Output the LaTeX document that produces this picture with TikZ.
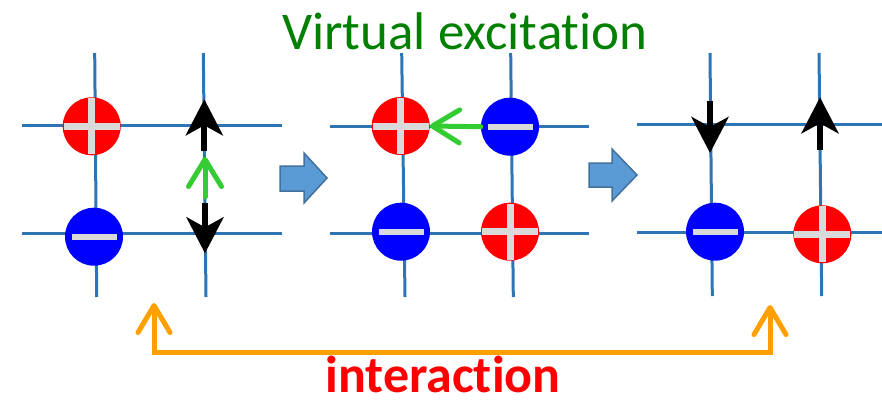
\documentclass[tikz,border=0pt]{standalone}
\usepackage{fontspec}
\setmainfont{Carlito}[Ligatures=NoCommon]
\usetikzlibrary{arrows.meta}
\definecolor{gridblue}{RGB}{46,117,182}
\definecolor{chgray}{RGB}{217,217,217}
\definecolor{exgreen}{RGB}{51,204,51}
\definecolor{txtgreen}{RGB}{0,128,0}
\definecolor{orng}{RGB}{255,160,0}
\definecolor{blkfill}{RGB}{91,155,213}
\definecolor{blkedge}{RGB}{65,113,156}
\tikzset{
  gridline/.style={gridblue, line width=3pt},
  poscharge/.style={circle, fill=red, minimum size=58pt, inner sep=0pt},
  negcharge/.style={circle, fill=blue, minimum size=58pt, inner sep=0pt},
  chbar/.style={chgray, line width=7pt},
  spinarrow/.style={black, line width=6pt, -{Stealth[length=36pt, width=37pt, inset=10pt]}},
  hoparrow/.style={exgreen, line width=5pt, line cap=round, -{Straight Barb[length=27pt, width=33pt, line cap=round, line join=round]}},
  intarrow/.style={orng, line width=5pt, {Straight Barb[length=27pt, width=32pt, line cap=round, line join=round]}-{Straight Barb[length=27pt, width=32pt, line cap=round, line join=round]}},
  blockarrow/.style={fill=blkfill, draw=blkedge, line width=1.5pt, line join=miter}
}
\begin{document}
\begin{tikzpicture}[x=1pt, y=-1pt]
\useasboundingbox (0,0) rectangle (882,402);
% ---------- panel 1 grid
\draw[gridline] (22,125.7) -- (282,125.7);
\draw[gridline] (22,233.3) -- (282,233.3);
\draw[gridline] (94.7,53) -- (96.7,297);
\draw[gridline] (203.3,53) -- (206,297);
% ---------- panel 2 grid
\draw[gridline] (330,126) -- (589,126);
\draw[gridline] (330,233) -- (589,233);
\draw[gridline] (401.7,53) -- (405,297);
\draw[gridline] (510.7,53) -- (513.3,297);
% ---------- panel 3 grid
\draw[gridline] (637,124.7) -- (882,124.7);
\draw[gridline] (637,232.7) -- (882,232.7);
\draw[gridline] (710,53) -- (712.3,296);
\draw[gridline] (819,53) -- (821.7,296);

% ---------- charges
\node[poscharge] (p1) at (91.7,126.3) {};
\node[negcharge] (n1) at (94,236.7) {};
\node[poscharge] (p2) at (400.7,126) {};
\node[negcharge] (n2) at (510,126.7) {};
\node[negcharge] (n3) at (401,231.7) {};
\node[poscharge] (p3) at (510,231.7) {};
\node[negcharge] (n4) at (715,231.7) {};
\node[poscharge] (p4) at (822.3,234.3) {};
\foreach \c in {p1,p2,p3,p4}{
  \draw[chbar] ([xshift=-28pt]\c.center) -- ([xshift=28pt]\c.center);
  \draw[chbar] ([yshift=-28pt]\c.center) -- ([yshift=28pt]\c.center);
}
\foreach \c in {n1,n2,n3,n4}{
  \draw[chgray, line width=6pt] ([xshift=-22.5pt]\c.center) -- ([xshift=22.5pt]\c.center);
}

% ---------- spins
\coordinate (s1a) at (204.3,151);  \coordinate (s1b) at (204.3,99.3);
\coordinate (s2a) at (205,202.7);  \coordinate (s2b) at (205,253.3);
\coordinate (s3a) at (710,101);    \coordinate (s3b) at (710,153);
\coordinate (s4a) at (820,150);    \coordinate (s4b) at (820,97.3);
\draw[spinarrow] (s1a) -- (s1b);
\draw[spinarrow] (s2a) -- (s2b);
\draw[spinarrow] (s3a) -- (s3b);
\draw[spinarrow] (s4a) -- (s4b);

% ---------- virtual hops
\coordinate (g1a) at (205,197); \coordinate (g1b) at (205,157);
\draw[hoparrow] (g1a) -- (g1b);
\draw[hoparrow] (n2.west) -- (p2.east);

% ---------- block arrows
\draw[blockarrow] (280,166) -- (304,166) -- (304,153) -- (327,178) -- (304,203) -- (304,191) -- (280,191) -- cycle;
\draw[blockarrow] (589,163) -- (612,163) -- (612,149) -- (637,175) -- (612,201) -- (612,187) -- (589,187) -- cycle;

% ---------- interaction
\coordinate (o1) at (154,303);
\coordinate (o2) at (770,305);
\draw[intarrow] (o1) -- (154,352) -- (770,352) -- (o2);

% ---------- texts
\node[anchor=base, inner sep=0pt, text=txtgreen, font=\fontsize{53}{60}\selectfont] (title) at (465,49) {Virtual excitation};
\node[anchor=base, inner sep=0pt, text=red, font=\bfseries\fontsize{52}{60}\selectfont] (label) at (443,392) {interaction};
\end{tikzpicture}
\end{document}
